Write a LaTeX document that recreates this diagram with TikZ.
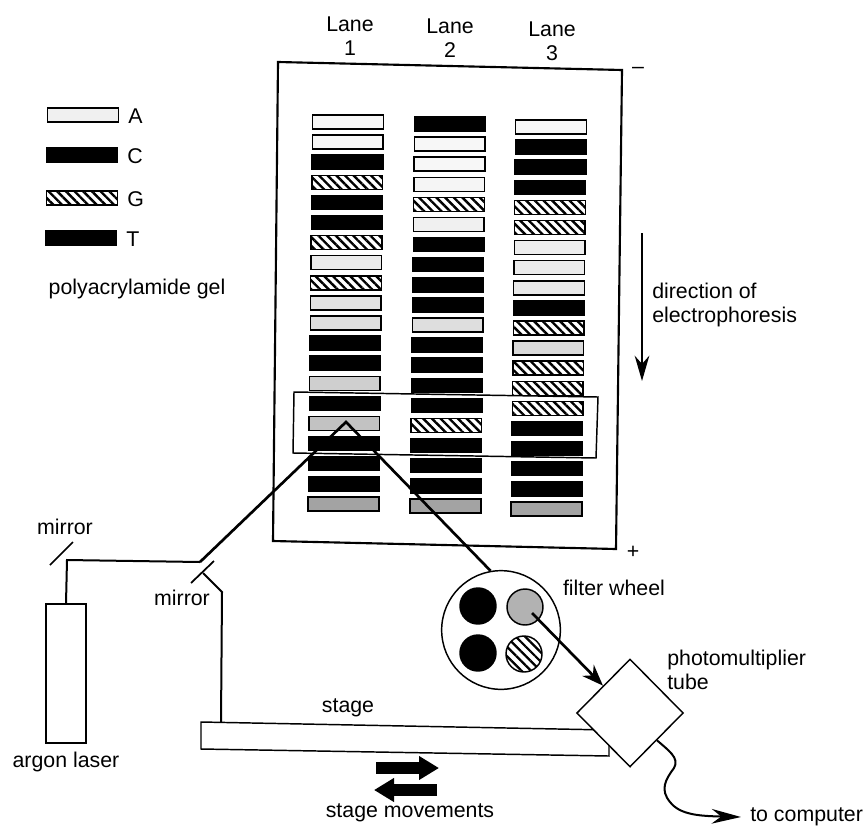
\documentclass[tikz,border=0pt]{standalone}
\usepackage{fontspec}
\setmainfont{Liberation Sans}
\usetikzlibrary{shapes.geometric,patterns.meta,arrows.meta}
\def\bandtone{6}
\tikzset{
  bandbase/.style={draw,line width=1.1pt,minimum width=53pt,minimum height=10.5pt,inner sep=0pt},
  bandA/.style={bandbase,fill=black!\bandtone},
  bandC/.style={bandbase,fill=black},
  bandG/.style={bandbase,pattern={Lines[angle=-45,distance=4.6pt,line width=1.8pt]}},
  bandT/.style={bandC},
  lbl/.style={font=\fontsize{16}{18}\selectfont,inner sep=0pt},
  beam/.style={line width=2pt},
  thinbeam/.style={line width=1.5pt},
  disc/.style={circle,draw,line width=1.1pt,minimum size=27pt,inner sep=0pt},
}
\begin{document}
\begin{tikzpicture}[x=0.75pt,y=-0.75pt,>=stealth]
  \useasboundingbox (0,0) rectangle (866,828);
  % gel
  \draw[line width=1.6pt] (278,62)--(622,70)--(616,549)--(273,541)--cycle;
  \foreach \lx/\ly/\types [count=\n] in {
    348/122/{A,A,C,G,C,C,G,A,G,A,A,C,C,A,C,A,C,C,C,A},
    450/124/{C,A,A,A,G,A,C,C,C,C,A,C,C,C,C,G,C,C,C,A},
    551/127/{A,C,C,C,G,G,A,A,A,C,G,A,G,G,G,C,C,C,C,A}}
  {
    \foreach \t [count=\i] in \types
    {
      \pgfmathtruncatemacro{\bandtone}{3+\i*\i/12}
      \node[band\t] (band\n-\i) at ({\lx-0.24*(\i-1)},{\ly+20.1*(\i-1)}) {};
    }
  }
  \node[lbl,align=center] (lane1) at (350,36) {Lane\\1};
  \node[lbl,align=center] (lane2) at (450,38) {Lane\\2};
  \node[lbl,align=center] (lane3) at (552,41) {Lane\\3};
  \node[lbl] (minus) at (638,70) {--};
  \node[lbl] (plus) at (633,552) {+};
  % legend
  \foreach \t/\x/\y in {A/83/115,C/82/155,G/82/198,T/81/238}
  {
    \node[band\t] (key\t) at (\x,\y) {};
    \node[lbl,anchor=west] (name\t) at (\x+45,\y+1) {\t};
  }
  \node[lbl] (gel) at (137,289) {polyacrylamide gel};
  % direction
  \node[lbl,align=left,anchor=west] (dirn) at (652,305) {direction of\\electrophoresis};
  \coordinate (dirtop) at (642,233);
  \coordinate (dirend) at (642,381);
  \draw[-{Stealth[length=19pt,width=11pt]},line width=1.2pt] (dirtop)--(dirend);
  % window
  \draw[line width=1.1pt] (294,392)--(598,397)--(596,458)--(293,453)--cycle;
  % laser and beam
  \node[draw,line width=1.1pt,minimum width=30pt,minimum height=104pt,inner sep=0pt] (laser) at (66,673.5) {};
  \node[lbl] (laserlbl) at (66,762) {argon laser};
  \node[lbl] (mirrorlblA) at (65,527) {mirror};
  \node[lbl] (mirrorlblB) at (182,598) {mirror};
  \draw[line width=1.3pt] (50,565)--(73,542);
  \draw[line width=1.3pt] (191,583)--(214,561);
  \coordinate (bendA) at (67,560);
  \coordinate (bendB) at (200,562);
  \coordinate (apex) at (346,422);
  \node[circle,draw,line width=1.1pt,minimum size=89pt,inner sep=0pt] (wheel) at (501,630) {};
  \draw[thinbeam] (laser.north)--(bendA)--(bendB);
  \draw[beam] (bendB)--(apex)--(wheel.100);
  % filter wheel
  \node[disc,fill=black] (discC) at (478,606) {};
  \node[disc,fill=black!30] (discA) at (525,607) {};
  \node[disc,fill=black] (discT) at (478,653) {};
  \node[disc,pattern={Lines[angle=-45,distance=5pt,line width=1.7pt]}] (discG) at (524,654) {};
  \node[lbl] (wheellbl) at (614,588) {filter wheel};
  % stage
  \draw[line width=1.1pt] (201,722)--(609,730)--(609,756)--(201,749)--cycle;
  \coordinate (postA) at (221,722);
  \coordinate (postB) at (222,592);
  \coordinate (postC) at (203,573);
  \draw[thinbeam] (postA)--(postB)--(postC);
  \node[lbl] (stagelbl) at (348,708) {stage};
  \node[lbl] (movelbl) at (410,813) {stage movements};
  \coordinate (moveA) at (376,768);
  \coordinate (moveB) at (439,768);
  \coordinate (moveC) at (437,790);
  \coordinate (moveD) at (374,790);
  \draw[-{Triangle[length=15pt,width=17pt]},line width=9.5pt] (moveA)--(moveB);
  \draw[-{Triangle[length=15pt,width=17pt]},line width=9.5pt] (moveC)--(moveD);
  % photomultiplier
  \node[diamond,draw,fill=white,line width=1.1pt,minimum width=80pt,minimum height=81pt,inner sep=0pt] (pmt) at (630,713) {};
  \node[lbl,align=left,anchor=west] (pmtlbl) at (667,670) {photomultiplier\\tube};
  \coordinate (filterout) at (532,613);
  \draw[-{Stealth[length=16pt,width=12pt]},line width=2pt] (filterout)--(pmt.north west);
  \coordinate (wireend) at (741,817);
  \draw[-{Stealth[length=22pt,width=11pt]},line width=1.5pt] (pmt.south east)
    .. controls (668,750) and (680,758) .. (674,768)
    .. controls (665,780) and (660,790) .. (670,802)
    .. controls (680,815) and (700,816) .. (wireend);
  \node[lbl,anchor=west] (complbl) at (750,817) {to computer};
\end{tikzpicture}
\end{document}
